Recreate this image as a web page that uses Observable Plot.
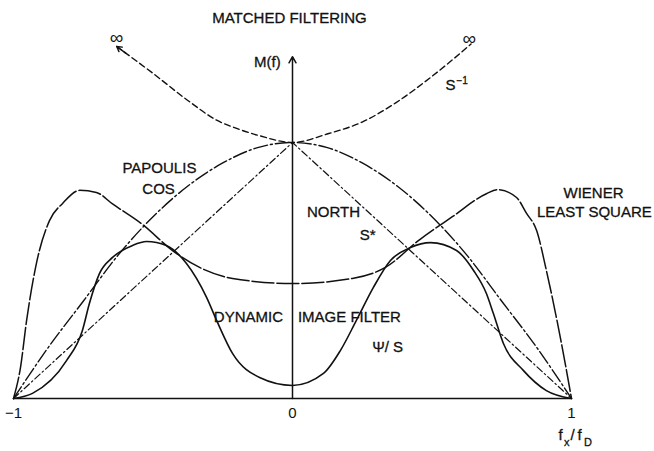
<!DOCTYPE html>
<html>
<head>
<meta charset="utf-8">
<script src="https://cdn.jsdelivr.net/npm/d3@7"></script>
<script src="https://cdn.jsdelivr.net/npm/@observablehq/plot@0.6"></script>
<style>
  html, body { margin: 0; padding: 0; background: #fff; }
  #chart svg { display: block; }
</style>
</head>
<body>
<div id="chart"></div>
<script>
// Normalised spatial frequency f_x / f_D and filter gain M(f)
const xTicks = [-1, 0, 1];

// Inverse filter S^-1 (grows without bound toward the band edges)
const invX = [-0.63, -0.5, -0.37, -0.27, -0.2, -0.12, 0, 0.13, 0.25, 0.37, 0.49, 0.57, 0.64];
const invY = [1.375, 1.27, 1.16, 1.086, 1.055, 1.027, 1.0, 1.035, 1.08, 1.155, 1.25, 1.32, 1.385];

// Papoulis cosine window
const papX = [-1, -0.875, -0.75, -0.625, -0.5, -0.375, -0.25, -0.125, 0, 0.125, 0.25, 0.375, 0.5, 0.625, 0.75, 0.875, 1];
const papY = [0, 0.2, 0.38, 0.56, 0.71, 0.83, 0.92, 0.98, 1, 0.98, 0.92, 0.83, 0.71, 0.56, 0.38, 0.2, 0];

// North matched filter S*
const northX = [-1, 0, 1];
const northY = [0, 1, 0];

// Wiener least-square filter
const wienerX = [-1, -0.975, -0.953, -0.918, -0.871, -0.824, -0.763, -0.703, -0.645, -0.538, -0.43, -0.333, -0.215, 0,
                 0.215, 0.333, 0.455, 0.573, 0.695, 0.735, 0.803, 0.839, 0.875, 0.91, 0.96, 1];
const wienerY = [0, 0.121, 0.305, 0.527, 0.695, 0.762, 0.813, 0.805, 0.76, 0.68, 0.578, 0.512, 0.469, 0.449,
                 0.469, 0.512, 0.62, 0.71, 0.8, 0.816, 0.785, 0.723, 0.656, 0.5, 0.238, 0];

// Dynamic image filter Psi/S
const dynX = [-1, -0.932, -0.81, -0.753, -0.728, -0.692, -0.645, -0.573, -0.523, -0.452, -0.38, -0.308, -0.272, -0.215, -0.118, 0,
              0.111, 0.172, 0.229, 0.29, 0.351, 0.423, 0.495, 0.588, 0.649, 0.695, 0.72, 0.756, 0.828, 0.91, 1];
const dynY = [0, 0.02, 0.148, 0.266, 0.371, 0.488, 0.551, 0.598, 0.613, 0.598, 0.527, 0.395, 0.305, 0.176, 0.082, 0.051,
              0.098, 0.188, 0.305, 0.434, 0.539, 0.59, 0.609, 0.578, 0.5, 0.41, 0.332, 0.215, 0.109, 0.031, 0];

const pts = (xs, ys) => xs.map((x, i) => ({x, y: ys[i]}));

const inv = pts(invX, invY);
const pap = pts(papX, papY);
const north = pts(northX, northY);
const wiener = pts(wienerX, wienerY);
const dyn = pts(dynX, dynY);

// arrowheads at both ends of the inverse filter, pointing outwards
const n = inv.length;
const invEnds = [
  {x1: inv[1].x, y1: inv[1].y, x2: inv[0].x, y2: inv[0].y},
  {x1: inv[n - 2].x, y1: inv[n - 2].y, x2: inv[n - 1].x, y2: inv[n - 1].y}
];

const ink = "#111";
const font = "'Liberation Sans', Arial, Helvetica, sans-serif";
const smooth = "monotone-x";
// slightly heavier lettering
const label = (s, o) => Plot.text([s], {text: d => d, fill: ink, stroke: ink, strokeWidth: 0.3, ...o});

const chart = Plot.plot({
  width: 654,
  height: 451,
  marginLeft: 13,
  marginRight: 83,
  marginTop: 14,
  marginBottom: 53,
  x: {domain: [-1, 1], axis: null},
  y: {domain: [0, 1.5], axis: null},
  style: {fontFamily: font, fontSize: "15px", color: ink, background: "#fff", overflow: "visible"},
  marks: [
    // axes
    Plot.ruleY([0], {x1: -1, x2: 1, stroke: ink, strokeWidth: 1.5}),
    Plot.arrow([0], {x1: 0, y1: 0, x2: 0, y2: 1.335, stroke: ink, strokeWidth: 1.5, headLength: 7}),
    Plot.axisX({ticks: xTicks, tickFormat: "d", tickSize: 0, tickPadding: 9, fontSize: 15, fill: ink, stroke: ink, strokeWidth: 0.3}),

    // filter curves
    Plot.line(north, {x: "x", y: "y", stroke: ink, strokeWidth: 1.2, strokeDasharray: "7,3,1.5,3"}),
    Plot.line(pap, {x: "x", y: "y", curve: smooth, stroke: ink, strokeWidth: 1.4, strokeDasharray: "14,3,2,3"}),
    Plot.line(wiener, {x: "x", y: "y", curve: smooth, stroke: ink, strokeWidth: 1.5, strokeDasharray: "22,3"}),
    Plot.line(dyn, {x: "x", y: "y", curve: smooth, stroke: ink, strokeWidth: 1.6}),
    Plot.line(inv, {x: "x", y: "y", curve: smooth, stroke: ink, strokeWidth: 1.4, strokeDasharray: "6,3.5"}),
    Plot.arrow(invEnds, {x1: "x1", y1: "y1", x2: "x2", y2: "y2", stroke: ink, strokeWidth: 1.4, headLength: 6, insetStart: 34}),

    // title and axis labels
    label("MATCHED FILTERING", {x: -0.011, y: 1.484}),
    label("M(f)", {x: -0.09, y: 1.3125}),
    label("f", {x: 1, y: -0.145, dx: -13, textAnchor: "start"}),
    label("x", {x: 1, y: -0.17, dx: -7.5, textAnchor: "start", fontSize: 11}),
    label("/", {x: 1, y: -0.145, dx: -1, textAnchor: "start"}),
    label("f", {x: 1, y: -0.145, dx: 6, textAnchor: "start"}),
    label("D", {x: 1, y: -0.172, dx: 12.5, textAnchor: "start", fontSize: 11}),

    // curve labels
    label("∞", {x: -0.631, y: 1.41, fontSize: 19, strokeWidth: 0}),
    label("∞", {x: 0.634, y: 1.406, fontSize: 19, strokeWidth: 0}),
    label("S", {x: 0.566, y: 1.223}),
    label("−1", {x: 0.566, y: 1.24, dx: 6, textAnchor: "start", fontSize: 10}),
    label("PAPOULIS", {x: -0.477, y: 0.898}),
    label("COS", {x: -0.48, y: 0.816}),
    label("NORTH", {x: 0.147, y: 0.727}),
    label("S*", {x: 0.269, y: 0.637}),
    label("WIENER", {x: 1.079, y: 0.801}),
    label("LEAST SQUARE", {x: 1.082, y: 0.727}),
    label("DYNAMIC", {x: -0.158, y: 0.316}),
    label("IMAGE FILTER", {x: 0.204, y: 0.316}),
    label("Ψ/ S", {x: 0.341, y: 0.199})
  ]
});

document.getElementById("chart").append(chart);
</script>
</body>
</html>
